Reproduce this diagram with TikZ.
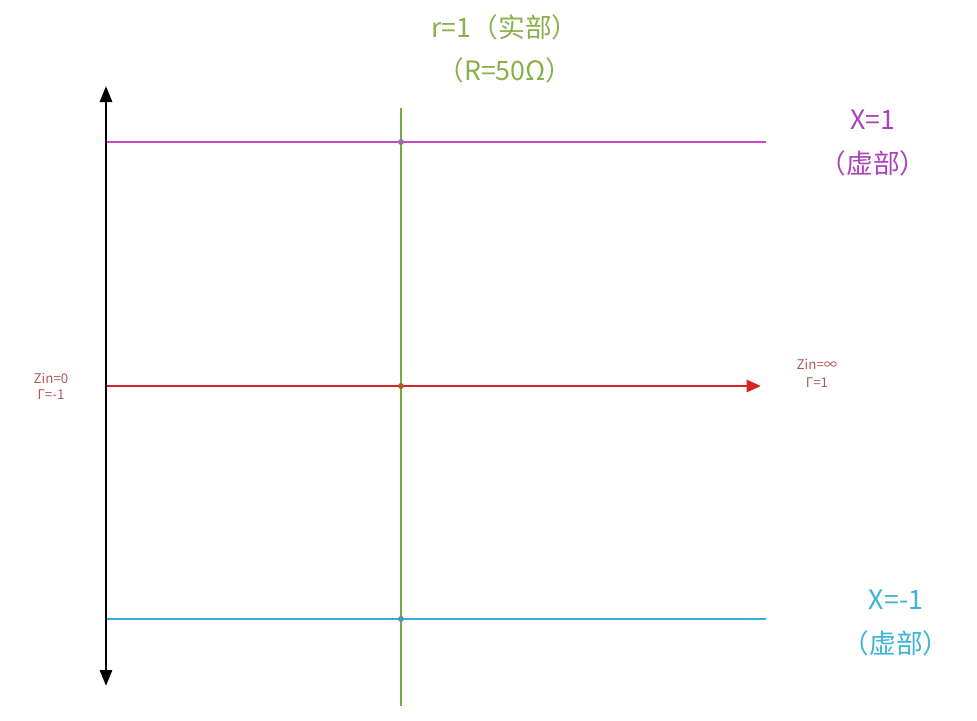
\documentclass[tikz,border=0pt]{standalone}
\usepackage{fontspec}
\newfontfamily\cjk{Noto Sans CJK SC}
\usetikzlibrary{positioning}
\usetikzlibrary{arrows.meta}
\definecolor{xpurple}{HTML}{C848C8}
\definecolor{xpurpletext}{HTML}{A844B8}
\definecolor{rred}{HTML}{D42424}
\definecolor{xcyan}{HTML}{33AEDC}
\definecolor{xcyantext}{HTML}{3CB4D4}
\definecolor{rgreen}{HTML}{74AE42}
\definecolor{rgreentext}{HTML}{8AB04C}
\definecolor{zintext}{HTML}{B05858}
\tikzset{
	biglabel/.style={font=\cjk\fontsize{19}{22}\selectfont, inner sep=0pt},
	smalllabel/.style={font=\cjk\fontsize{9.5}{11}\selectfont, text=zintext, inner sep=0pt},
	gridline/.style={line width=2pt},
	crossdot/.style={circle, inner sep=0pt, minimum size=1.5mm, fill=#1}
}

\begin{document}
\begin{tikzpicture}[x=0.25mm,y=-0.25mm]
	\useasboundingbox (0,0) rectangle (977,720);
	
	% Ends of the lines
	\coordinate (axtop) at (106,86);
	\coordinate (axbot) at (106,686);
	\coordinate (xpL) at (106,142);
	\coordinate (xpR) at (766,142);
	\coordinate (zeroL) at (106,386);
	\coordinate (zeroR) at (761,386);
	\coordinate (xnL) at (106,619);
	\coordinate (xnR) at (766,619);
	\coordinate (rtop) at (401,108);
	\coordinate (rbot) at (401,706);
	
	% Lines
	\draw [gridline, xpurple] (xpL) -- (xpR);
	\draw [gridline, xcyan] (xnL) -- (xnR);
	\draw [gridline, rred, -{Triangle[length=3.6mm, width=3mm]}] (zeroL) -- (zeroR);
	\draw [gridline, rgreen] (rtop) -- (rbot);
	\draw [gridline, black, {Triangle[length=4mm, width=3mm]}-{Triangle[length=4mm, width=3mm]}] (axtop) -- (axbot);
	
	% Crossings
	\node [crossdot=xpurple!60!black!70] at (401,142) (dotxp) {};
	\node [crossdot=rred!60!rgreen] at (401,386) (dotzero) {};
	\node [crossdot=xcyan!70!black!80] at (401,619) (dotxn) {};
	
	% Labels
	\node [biglabel, text=rgreentext] at (505,27) (rtitle) {r=1（实部）};
	\node [biglabel, text=rgreentext, on grid, below=10.75mm of rtitle] (rvalue) {（R=50Ω）};
	\node [biglabel, text=xpurpletext] at (873,120) (xptitle) {X=1};
	\node [biglabel, text=xpurpletext, on grid, below=10.75mm of xptitle] (xpimag) {（虚部）};
	\node [biglabel, text=xcyantext] at (896,600) (xntitle) {X=-1};
	\node [biglabel, text=xcyantext, on grid, below=10.75mm of xntitle] (xnimag) {（虚部）};
	\node [smalllabel] at (51,378) (zinzero) {Zin=0};
	\node [smalllabel, on grid, below=4.25mm of zinzero] (gammaneg) {Γ=-1};
	\node [smalllabel] at (817,364) (zininf) {Zin=∞};
	\node [smalllabel, on grid, below=4.75mm of zininf] (gammapos) {Γ=1};
	
\end{tikzpicture}
\end{document}
